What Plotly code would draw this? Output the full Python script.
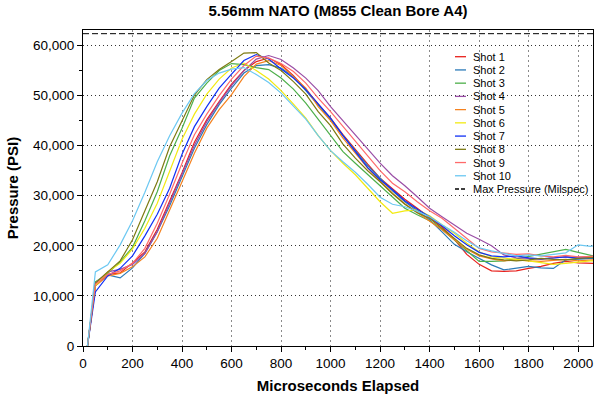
import plotly.graph_objects as go

# ---- data ----
time_us = [18, 50, 100, 150, 200, 250, 300, 350, 400, 450, 500, 550, 600, 650, 700, 750,
           800, 850, 900, 950, 1000, 1050, 1100, 1150, 1200, 1250, 1300, 1350, 1400, 1450,
           1500, 1550, 1600, 1650, 1700, 1750, 1800, 1850, 1900, 1950, 2000, 2050, 2060]

shot1 = [0, 12000, 14300, 14600, 16600, 18800, 23300, 28800, 34600, 40700, 45200, 48800, 52300, 55000, 56800, 57500,
         56200, 54000, 51300, 48300, 45500, 42200, 39200, 36300, 33500, 31300, 29300, 27500, 25700, 23800,
         21300, 18300, 16300, 15000, 14900, 15000, 15500, 15900, 16500, 16900, 16600, 16500, 16500]
shot2 = [0, 12000, 14200, 13600, 15600, 18500, 22800, 28000, 33800, 39500, 44200, 48200, 51500, 54500, 56000, 56200,
         55500, 53800, 51000, 48200, 45200, 42000, 39000, 36000, 33500, 31000, 28800, 27000, 25200, 22800,
         20300, 18800, 17500, 16200, 15200, 15600, 15900, 15600, 15500, 17200, 17300, 17500, 17500]
shot3 = [0, 12800, 14500, 16800, 19700, 25000, 30800, 38000, 43500, 49500, 52500, 55000, 56400, 56200, 55600, 55200,
         53500, 51300, 48500, 45300, 42000, 38800, 36500, 34200, 32000, 29600, 27500, 26200, 25000, 23300,
         21200, 19000, 16900, 16900, 17000, 17400, 17900, 18300, 18800, 19300, 18700, 18000, 18000]
shot4 = [0, 12500, 14800, 15300, 16300, 18500, 22800, 28500, 34200, 40100, 44800, 48600, 52000, 55000, 57300, 58000,
         57200, 55500, 53500, 51000, 47800, 45000, 42300, 39300, 36500, 34000, 32000, 29800, 27500, 25800,
         24200, 22500, 21300, 20000, 18200, 17600, 17500, 17300, 17600, 17800, 17700, 17900, 17900]
shot5 = [0, 12000, 14000, 14500, 15800, 17800, 21500, 27000, 32800, 38500, 43500, 47200, 50200, 53800, 56300, 57000,
         56000, 53800, 51500, 47800, 45000, 41500, 38500, 35500, 33000, 30500, 28400, 26700, 25000, 23200,
         21200, 19300, 18000, 17400, 17000, 17200, 17000, 16900, 17100, 17300, 17000, 17200, 17200]
shot6 = [0, 12000, 14800, 16500, 19400, 23500, 28500, 34800, 41300, 46300, 50300, 53300, 55500, 56500, 55000, 53300,
         51000, 48300, 45500, 42000, 39000, 36500, 34200, 31500, 28800, 26500, 27000, 27200, 26000, 24200,
         22500, 20500, 18800, 17800, 17600, 17300, 17000, 16700, 16300, 16500, 16800, 17000, 17000]
shot7 = [0, 10800, 14000, 15500, 18000, 22000, 26300, 31500, 38300, 43800, 47800, 51500, 54300, 57000, 58200, 57300,
         55300, 53500, 51200, 48300, 45500, 42000, 38700, 35600, 33200, 31200, 29000, 27300, 25800, 24000,
         22000, 20200, 18700, 18000, 17800, 18000, 17600, 17400, 17600, 17800, 17500, 17700, 17700]
shot8 = [0, 12500, 14800, 17000, 21200, 27000, 32800, 39800, 45000, 50100, 53200, 55200, 56800, 58500, 58600, 56500,
         55000, 52800, 50300, 46800, 44000, 40300, 37500, 35000, 32800, 30400, 28300, 26600, 25500, 23500,
         21500, 19500, 18200, 17500, 17200, 17000, 17200, 17500, 17300, 17200, 17500, 17700, 17700]
shot9 = [0, 12300, 14300, 15000, 16500, 19500, 24500, 30300, 36500, 42200, 46300, 50000, 53300, 56000, 57900, 57500,
         56400, 54800, 52500, 49500, 46800, 43800, 40800, 37800, 35000, 32500, 30800, 28800, 27000, 25500,
         23500, 21400, 19500, 18800, 18500, 18300, 18400, 18000, 17800, 18100, 17800, 17900, 17900]
shot10 = [0, 14800, 16200, 20200, 25000, 30700, 36800, 42000, 46500, 50400, 53000, 54500, 55300, 55600, 54200, 52600,
          50500, 48000, 45300, 42000, 39000, 36800, 34700, 32300, 29700, 28300, 27800, 26900, 25800, 24200,
          22700, 21000, 19600, 19000, 18500, 18000, 18200, 18000, 18300, 18600, 20200, 19900, 20000]

series_names = ["Shot 1", "Shot 2", "Shot 3", "Shot 4", "Shot 5",
                "Shot 6", "Shot 7", "Shot 8", "Shot 9", "Shot 10"]
series_values = [shot1, shot2, shot3, shot4, shot5, shot6, shot7, shot8, shot9, shot10]
series_colors = ["#e8201c", "#2a7ab8", "#4daf4a", "#9a4ea6", "#f5821f",
                 "#f2ea12", "#1030f5", "#7d7a12", "#ff6a6a", "#6cc8f2"]

max_label = "Max Pressure (Milspec)"
max_pressure = 62366
x_range = [0, 2060]
y_range = [0, 63100]
x_tick_vals = list(range(0, 2001, 200))
y_tick_vals = list(range(0, 60001, 10000))

FONT = "Liberation Sans, Arial, Helvetica, sans-serif"

fig = go.Figure()
for name, vals, col in zip(series_names, series_values, series_colors):
    fig.add_trace(go.Scatter(x=time_us, y=vals, mode="lines", name=name,
                             line=dict(color=col, width=1.2), showlegend=False))

fig.add_trace(go.Scatter(x=x_range, y=[max_pressure, max_pressure], mode="lines",
                         name=max_label, line=dict(color="black", width=1, dash="6px,3px"),
                         showlegend=False))

# ---- compact legend (inside plot, upper right) ----
L, R, T, B = 83, 18, 30, 51
W, H = 611 - L - R, 397 - T - B
def px_x(p):
    return (p - L) / W
def px_y(p):
    return (T + H - p) / H

legend_items = list(zip(series_names, series_colors, ["solid"] * 10)) + [(max_label, "black", "4px,2px")]
row0, row_step = 56.7, 13.23
for i, (nm, col, dsh) in enumerate(legend_items):
    yy = px_y(row0 + i * row_step)
    fig.add_shape(type="line", xref="paper", yref="paper",
                  x0=px_x(455), x1=px_x(466), y0=yy, y1=yy,
                  line=dict(color=col, width=1.3, dash=dsh))
    fig.add_annotation(x=px_x(470.5), y=yy, xref="paper", yref="paper", text=nm,
                       showarrow=False, xanchor="left", yanchor="middle",
                       font=dict(family=FONT, size=11, color="black"))

fig.update_layout(
    width=611, height=397,
    margin=dict(l=L, r=R, t=T, b=B),
    paper_bgcolor="white", plot_bgcolor="white",
    font=dict(family=FONT, color="black"),
    hovermode=False,
    title=dict(text="5.56mm NATO (M855 Clean Bore A4)", x=0.5, xref="paper",
               y=1 - 10.5 / 397, yref="container", yanchor="middle", xanchor="center",
               font=dict(family=FONT, size=15, weight="bold", color="black")),
    xaxis=dict(range=x_range, tickvals=x_tick_vals, tickformat="d", automargin=False,
               showline=True, linecolor="black", linewidth=1, mirror=True,
               ticks="outside", ticklen=5, tickcolor="black",
               tickfont=dict(family=FONT, size=13.5, color="black"),
               showgrid=True, gridcolor="#8a8a8a", griddash="2px,3px", gridwidth=1,
               zeroline=False,
               minor=dict(dtick=100, ticks="outside", ticklen=3, tickcolor="black", showgrid=False),
               title=dict(text="Microseconds Elapsed", standoff=10,
                          font=dict(family=FONT, size=15, weight="bold", color="black"))),
    yaxis=dict(range=y_range, tickvals=y_tick_vals, tickformat=",d", automargin=False,
               showline=True, linecolor="black", linewidth=1, mirror=True,
               ticks="outside", ticklen=5, tickcolor="black",
               tickfont=dict(family=FONT, size=13.5, color="black"),
               showgrid=True, gridcolor="#333333", griddash="1px,3px", gridwidth=1,
               zeroline=False,
               minor=dict(dtick=5000, ticks="outside", ticklen=3, tickcolor="black", showgrid=False),
               title=dict(text="Pressure (PSI)", standoff=10,
                          font=dict(family=FONT, size=15, weight="bold", color="black"))),
)

fig.write_html("out.html", config={"displayModeBar": False, "staticPlot": True},
               post_script="document.body.style.margin='0';document.body.style.padding='0';")
